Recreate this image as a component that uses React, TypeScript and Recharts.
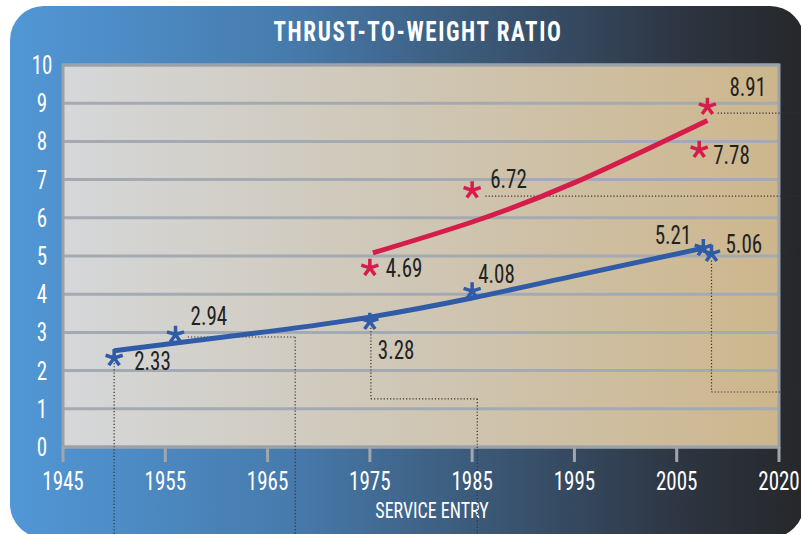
import React from 'react';
import { ComposedChart, Line, Scatter, XAxis, YAxis, CartesianGrid, ReferenceLine, ReferenceArea } from 'recharts';

// measured points
const blueYears = [1950, 1956, 1975, 1985, 2007.6, 2008.4];
const blueValues = [2.33, 2.94, 3.28, 4.08, 5.21, 5.06];
const redYears = [1975, 1985, 2007.2, 2008];
const redValues = [4.69, 6.72, 7.78, 8.91];

// trend curves
const blueTrendYears = [1950, 1965, 1975, 1985, 1995, 2007.5];
const blueTrendValues = [2.52, 3.02, 3.4, 3.9, 4.48, 5.2];
const redTrendYears = [1975.3, 1985, 1995, 2008];
const redTrendValues = [5.08, 5.89, 6.92, 8.55];

const xTicks = [1945, 1955, 1965, 1975, 1985, 1995, 2005, 2015];
const xTickLabels = ['1945', '1955', '1965', '1975', '1985', '1995', '2005', '2020'];
const yTicks = [0, 1, 2, 3, 4, 5, 6, 7, 8, 9, 10];

// dotted leader lines, in data units
const leaders: [number, number][][] = [
  [[1950, 2.2], [1950, -2.5]],
  [[1957.2, 2.88], [1967.7, 2.88], [1967.7, -2.5]],
  [[1975.1, 3.12], [1975.1, 1.26], [1985.5, 1.26], [1985.5, -2.5]],
  [[1986.3, 6.57], [2017.5, 6.57]],
  [[2009, 8.74], [2017.5, 8.74]],
  [[2008.4, 4.88], [2008.4, 1.44], [2017.5, 1.44]],
];

// label offsets from each star (px)
const labelOffsets: Record<string, [number, number, string]> = {
  '2.33': [20, 12, 'start'],
  '2.94': [15, -10, 'start'],
  '3.28': [8, 37, 'start'],
  '4.08': [6, -8, 'start'],
  '5.21': [-12, -4, 'end'],
  '5.06': [14, -1, 'start'],
  '4.69': [16, 9, 'start'],
  '6.72': [18, -2, 'start'],
  '7.78': [14, 14, 'start'],
  '8.91': [22, -11, 'start'],
};

const FONT = "'Liberation Sans Narrow', 'Roboto Condensed', 'DejaVu Sans Condensed', sans-serif";

const toPoints = (xs: number[], ys: number[]) => xs.map((x, i) => ({ year: x, value: ys[i], label: ys[i].toFixed(2) }));

const blueData = toPoints(blueYears, blueValues);
const redData = toPoints(redYears, redValues);
const blueTrend = toPoints(blueTrendYears, blueTrendValues);
const redTrend = toPoints(redTrendYears, redTrendValues);

// tall condensed text like the original typeface
const TallText = ({ x, y, anchor, fill, children }: any) => (
  <text
    transform={`translate(${x},${y}) scale(1,1.25)`}
    x={0}
    y={0}
    textAnchor={anchor}
    fill={fill}
    fontSize={21}
    fontFamily={FONT}
  >
    {children}
  </text>
);

const makeStar = (color: string) => (props: any) => {
  const { cx, cy, payload } = props;
  if (cx == null || cy == null) return null;
  const r = 9;
  const arms = [-90, -18, 54, 126, 198].map((a) => {
    const t = (a * Math.PI) / 180;
    return `M${cx},${cy}L${cx + r * Math.cos(t)},${cy + r * Math.sin(t)}`;
  });
  const off = labelOffsets[payload.label] || [14, 0, 'start'];
  return (
    <g>
      <path d={arms.join('')} stroke={color} strokeWidth={3.5} fill="none" />
      <TallText x={cx + off[0]} y={cy + off[1]} anchor={off[2]} fill="#222">
        {payload.label}
      </TallText>
    </g>
  );
};

const XTick = ({ x, y, payload }: any) => {
  const i = xTicks.indexOf(payload.value);
  return (
    <TallText x={x} y={y + 24} anchor="middle" fill="#fff">
      {xTickLabels[i]}
    </TallText>
  );
};

const YTick = ({ x, y, payload }: any) => (
  <TallText x={x - 21} y={y + 9} anchor="middle" fill="#fff">
    {payload.value}
  </TallText>
);

export default function App() {
  return (
    <div style={{ position: 'absolute', left: 0, top: 0, width: 801, height: 534, overflow: 'hidden', background: '#fff' }}>
      <div
        style={{
          position: 'absolute',
          left: 10,
          top: 6,
          width: 794,
          height: 532,
          borderRadius: 34,
          background: 'linear-gradient(to right, #5197d6 0%, #477bad 35%, #3b5876 60%, #2d3541 85%, #26272a 100%)',
        }}
      />
      <div
        style={{
          position: 'absolute',
          left: 0,
          top: 18,
          width: 836,
          textAlign: 'center',
          color: '#fff',
          fontFamily: FONT,
          fontWeight: 700,
          fontSize: 23,
          letterSpacing: 1.6,
          transform: 'scaleY(1.2)',
        }}
      >
        THRUST-TO-WEIGHT RATIO
      </div>
      <div
        style={{
          position: 'absolute',
          left: 0,
          top: 499,
          width: 864,
          textAlign: 'center',
          color: '#fff',
          fontFamily: FONT,
          fontSize: 18,
          transform: 'scaleY(1.25)',
        }}
      >
        SERVICE ENTRY
      </div>
      <div style={{ position: 'absolute', left: 0, top: 0 }}>
        <ComposedChart width={801} height={534} margin={{ top: 65, right: 22, left: 23, bottom: 27 }}>
          <defs>
            <linearGradient id="plotBg" x1="0" y1="0" x2="1" y2="0">
              <stop offset="0%" stopColor="#d5d7d9" />
              <stop offset="50%" stopColor="#cfc6b4" />
              <stop offset="100%" stopColor="#cdb68c" />
            </linearGradient>
          </defs>
          <CartesianGrid vertical={false} stroke="#a3aab2" strokeWidth={3} fill="url(#plotBg)" fillOpacity={1} />
          <XAxis
            dataKey="year"
            type="number"
            domain={[1945, 2015]}
            ticks={xTicks}
            interval={0}
            allowDataOverflow
            height={60}
            axisLine={false}
            tickSize={15}
            tickMargin={4}
            tickLine={{ stroke: '#a0a6ad', strokeWidth: 3 }}
            tick={<XTick />}
          />
          <YAxis
            type="number"
            domain={[0, 10]}
            ticks={yTicks}
            interval={0}
            width={40}
            axisLine={false}
            tickLine={false}
            tickSize={0}
            tickMargin={0}
            tick={<YTick />}
          />
          <ReferenceArea x1={1945} x2={2015} y1={0} y2={10} fill="none" stroke="#9ba1a8" strokeWidth={3} ifOverflow="visible" />
          {leaders.map((pts, li) =>
            pts.slice(1).map((p, k) => (
              <ReferenceLine
                key={`l${li}-${k}`}
                segment={[
                  { x: pts[k][0], y: pts[k][1] },
                  { x: p[0], y: p[1] },
                ]}
                ifOverflow="visible"
                stroke="#333"
                strokeWidth={1.2}
                strokeDasharray="1.2 2"
              />
            ))
          )}
          <Line data={blueTrend} dataKey="value" type="natural" stroke="#2f5ba7" strokeWidth={5} dot={false} isAnimationActive={false} />
          <Line data={redTrend} dataKey="value" type="natural" stroke="#d61c4b" strokeWidth={5} dot={false} isAnimationActive={false} />
          <Scatter data={blueData} dataKey="value" shape={makeStar('#2f5ba7')} isAnimationActive={false} />
          <Scatter data={redData} dataKey="value" shape={makeStar('#d61c4b')} isAnimationActive={false} />
        </ComposedChart>
      </div>
    </div>
  );
}
